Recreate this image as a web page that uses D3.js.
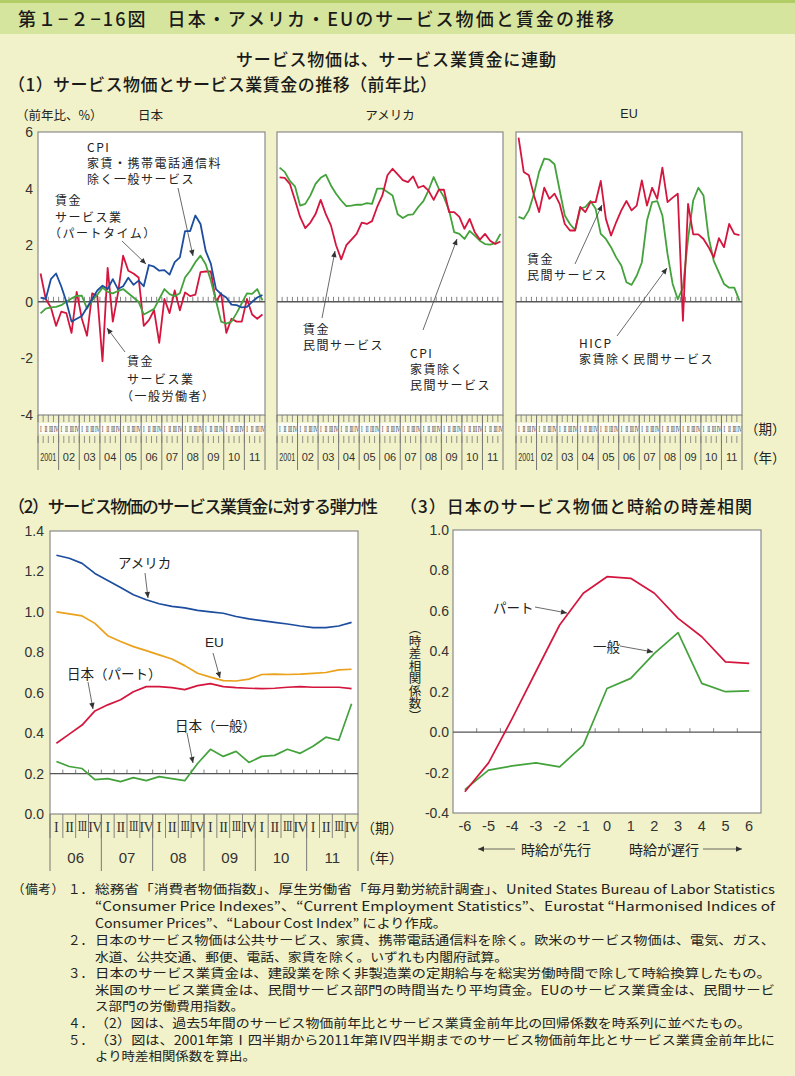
<!DOCTYPE html>
<html><head><meta charset="utf-8">
<script src="https://cdn.jsdelivr.net/npm/d3@7"></script>
<style>html,body{margin:0;padding:0;background:#f1f2c9;} svg{display:block}</style>
</head><body>
<svg id="chart" width="795" height="1076"></svg>
<script>
// ---------------- DATA ----------------
const years1 = ["2001","02","03","04","05","06","07","08","09","10","11"];
const quarterLabels = ["I","II","III","IV"];
// Japan (1)
const jpWagePart = [0.15,0.1,0.8,1.0,0.55,0.0,-0.7,-0.6,-0.5,-0.2,0.1,0.4,0.57,0.45,0.8,0.45,0.55,0.85,0.6,0.75,0.55,1.3,1.24,1.1,1.12,0.96,1.4,1.57,2.5,2.5,3.05,2.75,1.8,1.35,0.45,0.27,0.15,-0.1,-0.12,-0.2,-0.18,0.0,0.15,0.24];
const jpCPI = [-0.41,-0.24,-0.2,-0.18,-0.12,0.0,0.12,0.21,0.22,-0.24,0.05,0.25,0.5,0.35,0.3,0.38,0.45,0.3,0.15,0.0,-0.45,-0.35,-0.25,0.1,0.45,0.27,0.2,0.3,0.86,1.1,1.4,1.63,1.33,0.75,0.04,-0.7,-0.77,-0.7,-0.4,-0.05,0.3,0.28,0.45,0.05];
const jpWageGen = [1.0,0.1,-0.2,-0.85,-0.35,-0.4,-1.1,0.35,-0.6,-1.2,0.3,0.2,-2.1,1.2,-0.7,0.3,1.63,1.1,1.0,0.86,-0.85,-0.65,-0.3,-1.45,0.1,-0.4,0.4,-0.3,0.33,0.2,0.25,1.05,1.07,1.07,0.0,0.3,-1.1,-0.6,-0.7,-0.7,0.1,-0.45,-0.6,-0.45];
// America (1)
const usWage = [4.4,4.38,4.17,3.6,3.0,2.6,2.8,3.1,3.6,3.1,2.7,2.0,1.5,2.0,2.2,2.4,2.8,2.75,2.85,3.35,3.75,4.47,4.7,4.5,4.3,4.23,4.43,4.03,4.1,3.93,3.6,3.96,3.96,3.17,3.17,3.0,2.58,2.93,2.46,2.2,2.4,2.16,2.04,2.13];
const usCPI = [4.74,4.59,4.27,4.08,3.4,3.46,3.76,4.17,4.38,4.49,4.11,3.82,3.58,3.38,3.4,3.43,3.43,3.49,3.46,4.0,4.0,3.88,3.76,3.09,2.96,3.07,3.09,3.35,3.56,3.94,4.41,4.0,3.7,3.23,2.46,2.4,2.22,2.5,2.34,2.16,2.04,2.02,2.07,2.4];
// EU (1)
const euWage = [5.8,4.59,4.47,3.76,3.17,4.03,3.64,3.82,3.46,2.75,2.52,2.52,3.35,3.17,3.52,3.52,4.27,2.93,2.34,2.81,3.23,3.56,3.23,3.4,4.29,3.4,4.03,3.64,4.74,3.52,3.68,3.82,-0.67,3.46,2.38,2.38,2.22,1.93,1.57,2.25,1.93,2.75,2.4,2.36];
const euHICP = [3.0,2.93,3.23,3.82,4.59,5.06,5.02,4.86,3.94,3.05,2.75,2.54,3.29,3.35,3.56,3.29,2.4,2.22,1.93,1.57,1.28,0.69,0.6,0.92,1.39,2.87,3.52,3.56,3.05,1.69,0.63,0.09,0.5,2.22,3.58,4.03,3.76,2.28,1.45,1.04,0.63,0.5,0.5,0.04];
const yTicks1 = [6,4,2,0,-2,-4];

// (2) elasticity
const years2 = ["06","07","08","09","10","11"];
const elUS = [1.28,1.265,1.24,1.19,1.155,1.12,1.085,1.06,1.04,1.027,1.02,1.007,1.0,0.993,0.977,0.965,0.957,0.948,0.94,0.93,0.922,0.922,0.93,0.948];
const elEU = [1.0,0.99,0.98,0.943,0.882,0.853,0.828,0.808,0.787,0.767,0.734,0.696,0.677,0.66,0.658,0.667,0.69,0.692,0.69,0.692,0.696,0.70,0.713,0.716];
const elJPpart = [0.35,0.395,0.44,0.51,0.54,0.565,0.605,0.63,0.63,0.625,0.615,0.635,0.645,0.63,0.625,0.622,0.62,0.622,0.627,0.63,0.627,0.627,0.627,0.62];
const elJPgen = [0.26,0.235,0.225,0.17,0.175,0.16,0.18,0.165,0.185,0.175,0.165,0.25,0.32,0.285,0.31,0.255,0.285,0.29,0.32,0.3,0.335,0.38,0.365,0.545];
const yTicks2 = [0,0.2,0.4,0.6,0.8,1.0,1.2,1.4];

// (3) lag correlation
const lags = [-6,-5,-4,-3,-2,-1,0,1,2,3,4,5,6];
const corrPart = [-0.295,-0.152,0.068,0.3,0.53,0.687,0.769,0.761,0.687,0.563,0.472,0.348,0.34];
const corrGen = [-0.284,-0.188,-0.167,-0.152,-0.172,-0.064,0.216,0.266,0.39,0.492,0.241,0.2,0.204];
const yTicks3 = [1.0,0.8,0.6,0.4,0.2,0.0,-0.2,-0.4];

// ---------------- STYLE ----------------
const F_JP = "'Noto Sans CJK JP','Noto Sans',sans-serif";
const F_NUM = "'Liberation Sans',Arial,sans-serif";
const F_NARROW = "'Liberation Sans Narrow','Liberation Sans',Arial,sans-serif";
const F_SERIF = "'Liberation Serif','DejaVu Serif',serif";
const C_RED="#d4163e", C_GREEN="#43a23b", C_BLUE="#1c4d9e", C_ORANGE="#eba11b";
const C_TXT="#222", C_FRAME="#8a8a8a", C_AX="#555";

const svg = d3.select("#chart");
const defs = svg.append("defs");
defs.append("marker").attr("id","ah").attr("viewBox","0 0 10 10").attr("refX",10).attr("refY",5)
  .attr("markerUnits","userSpaceOnUse").attr("markerWidth",7).attr("markerHeight",6).attr("orient","auto")
  .append("path").attr("d","M0,0.5L10,5L0,9.5Z").attr("fill","#333");

function txt(x,y,s,o={}){
  const t=svg.append("text").attr("x",x).attr("y",y).attr("dominant-baseline","central")
    .attr("font-family",o.ff||F_JP).attr("font-size",o.fs||13.5).attr("fill",o.fill||C_TXT).text(s);
  if(o.anchor) t.attr("text-anchor",o.anchor);
  if(o.w) t.attr("textLength",o.w).attr("lengthAdjust",o.adj||"spacingAndGlyphs");
  if(o.fw) t.attr("font-weight",o.fw);
  if(o.ls) t.attr("letter-spacing",o.ls);
  return t;
}
function arrow(x1,y1,x2,y2){
  svg.append("line").attr("x1",x1).attr("y1",y1).attr("x2",x2).attr("y2",y2)
    .attr("stroke","#444").attr("stroke-width",0.8).attr("marker-end","url(#ah)");
}
function vline(x,y1,y2,c,w){svg.append("line").attr("x1",x).attr("x2",x).attr("y1",y1).attr("y2",y2).attr("stroke",c||C_FRAME).attr("stroke-width",w||1);}
// multi-line label as one text element with tspans
function multiline(x,y0,dy,lines){
  const t=svg.append("text").attr("dominant-baseline","central")
    .attr("font-family",F_JP).attr("font-size",12).attr("letter-spacing",1.5).attr("fill",C_TXT);
  lines.forEach((s,i)=>{
    t.append("tspan").attr("x", s.startsWith("（")? x-6 : x).attr("y",y0+i*dy)
      .attr("dominant-baseline","central").text(s);
  });
}

// ---------------- BACKGROUND & TITLES ----------------
svg.append("rect").attr("width",795).attr("height",1076).attr("fill","#f1f2c9");
svg.append("rect").attr("width",795).attr("height",34).attr("fill","#d6e59d");
svg.append("rect").attr("width",795).attr("height",3).attr("fill","#b2cc66");
txt(18,18,"第１−２−16図　日本・アメリカ・EUのサービス物価と賃金の推移",{fs:18,w:596,adj:"spacing",fw:500,fill:"#1a1a1a"});
txt(236,58,"サービス物価は、サービス業賃金に連動",{fs:17,w:320,adj:"spacing",fw:500,fill:"#1a1a1a"});
txt(8,83,"（1）サービス物価とサービス業賃金の推移（前年比）",{fs:17,w:429,adj:"spacing",fw:500,fill:"#1a1a1a"});

// ---------------- PANEL (1) ----------------
const qKeys1 = years1.flatMap(y=>quarterLabels.map(q=>y+"-"+q));
const P1 = {top:132, bottom:415};
const y1 = d3.scaleLinear().domain([-4,6]).range([P1.bottom,P1.top]);

function panel1(x0,x1,series,showY){
  const x = d3.scaleBand().domain(qKeys1).range([x0,x1]);
  const bw = x.bandwidth();
  svg.append("rect").attr("x",x0).attr("y",P1.top).attr("width",x1-x0).attr("height",P1.bottom-P1.top)
    .attr("fill","#fff").attr("stroke",C_FRAME).attr("stroke-width",1.2);
  qKeys1.slice(1).forEach(k=>vline(x(k),y1(0),y1(0)-5,"#666",0.8));
  svg.append("line").attr("x1",x0).attr("x2",x1).attr("y1",y1(0)).attr("y2",y1(0)).attr("stroke",C_AX).attr("stroke-width",1.4);
  const line = d3.line().x((d,i)=>x(qKeys1[i])+bw/2).y(d=>y1(d));
  series.forEach(s=>{
    svg.append("path").attr("d",line(s.values)).attr("fill","none").attr("stroke",s.color)
      .attr("stroke-width",1.8).attr("stroke-linejoin","round");
  });
  // axis area
  svg.append("rect").attr("x",x0).attr("y",423).attr("width",x1-x0).attr("height",11).attr("fill","#fcfcf6");
  const rg = svg.append("g").attr("transform","translate(0,429) scale(1,1.45)");
  qKeys1.forEach((k,i)=>{
    vline(x(k),P1.bottom,422,"#777",0.8);
    vline(x(k),436,443,"#777",0.8);
    rg.append("text").attr("x",x(k)+bw/2).attr("y",0).attr("text-anchor","middle").attr("dominant-baseline","central")
      .attr("font-family",F_SERIF).attr("font-size",5).attr("letter-spacing",-0.4).attr("fill","#333")
      .text(quarterLabels[i%4]);
  });
  years1.forEach((yr,j)=>{
    const xs = x(yr+"-I");
    vline(xs,P1.bottom,470,"#777",1);
    const t = txt(xs+2*bw,457,yr,{ff:F_NARROW,fs:11,anchor:"middle",fill:"#333"});
    if(yr.length>2) t.attr("textLength",16).attr("lengthAdjust","spacingAndGlyphs");
  });
  vline(x1,P1.bottom,470,"#777",1);
  if(showY){
    const ax = svg.append("g").attr("transform",`translate(${x0},0)`)
      .call(d3.axisLeft(y1).tickValues(yTicks1).tickSize(0).tickPadding(5).tickFormat(d=>String(d)));
    ax.select(".domain").remove();
    ax.selectAll("text").attr("font-family",F_NUM).attr("font-size",14).attr("fill","#333");
  }
}
panel1(38,265,[{values:jpWageGen,color:C_RED},{values:jpCPI,color:C_GREEN},{values:jpWagePart,color:C_BLUE}],true);
panel1(277,503,[{values:usCPI,color:C_GREEN},{values:usWage,color:C_RED}],false);
panel1(516,742,[{values:euHICP,color:C_GREEN},{values:euWage,color:C_RED}],false);

txt(16,114,"（前年比、%）",{fs:12.5});
txt(138,114,"日本",{fs:12.5});
txt(390,114,"アメリカ",{fs:12.5,anchor:"middle"});
txt(629,114,"EU",{fs:12.5,anchor:"middle",ff:F_NUM});
txt(745,428,"（期）",{fs:13.5});
txt(745,457,"（年）",{fs:13.5});

// annotations panel 1
multiline(87,146,16,["CPI","家賃・携帯電話通信料","除く一般サービス"]);
arrow(178,188,193,256);
multiline(55,199,16.5,["賃金","サービス業","（パートタイム）"]);
arrow(122,241,146,264);
multiline(127,360,17.5,["賃金","サービス業","（一般労働者）"]);
arrow(125,352,107,328);

multiline(303,328,16,["賃金","民間サービス"]);
arrow(322,318,335,251);
multiline(410,352,16,["CPI","家賃除く","民間サービス"]);
arrow(423,330,457,239);

multiline(527,258,16,["賃金","民間サービス"]);
arrow(575,264,602,205);
multiline(579,342,16,["HICP","家賃除く民間サービス"]);
arrow(617,336,667,268);

// ---------------- PANEL (2) ----------------
txt(8,505,"（2）サービス物価のサービス業賃金に対する弾力性",{fs:17,w:370,adj:"spacing",fw:500,fill:"#1a1a1a"});
const qKeys2 = years2.flatMap(y=>quarterLabels.map(q=>y+"-"+q));
const x2 = d3.scaleBand().domain(qKeys2).range([50,358]);
const y2 = d3.scaleLinear().domain([0,1.4]).range([814,531]);
const bw2 = x2.bandwidth();
svg.append("rect").attr("x",50).attr("y",531).attr("width",308).attr("height",283).attr("fill","#fff").attr("stroke",C_FRAME).attr("stroke-width",1.2);
qKeys2.slice(1).forEach(k=>vline(x2(k),y2(0.2),y2(0.2)-4,"#666",0.8));
svg.append("line").attr("x1",50).attr("x2",358).attr("y1",y2(0.2)).attr("y2",y2(0.2)).attr("stroke",C_AX).attr("stroke-width",1.2);
const line2 = d3.line().x((d,i)=>x2(qKeys2[i])+bw2/2).y(d=>y2(d));
[[elUS,C_BLUE],[elEU,C_ORANGE],[elJPpart,C_RED],[elJPgen,C_GREEN]].forEach(([v,c])=>{
  svg.append("path").attr("d",line2(v)).attr("fill","none").attr("stroke",c).attr("stroke-width",1.7).attr("stroke-linejoin","round");
});
{
  const ax = svg.append("g").attr("transform","translate(50,0)")
    .call(d3.axisLeft(y2).tickValues(yTicks2).tickSize(0).tickPadding(6).tickFormat(d=>d.toFixed(1)));
  ax.select(".domain").remove();
  ax.selectAll("text").attr("font-family",F_NUM).attr("font-size",14).attr("fill","#333");
}
qKeys2.forEach((k,i)=>{
  vline(x2(k),814,838,"#777",0.9);
  const q = quarterLabels[i%4];
  const t = txt(x2(k)+bw2/2,827,q,{ff:F_SERIF,fs:q.length>2?11:14,anchor:"middle",fill:"#333"});
  if(q.length>1) t.attr("transform",`translate(${x2(k)+bw2/2},827) scale(1,${q.length>2?1.27:1}) translate(${-(x2(k)+bw2/2)},-827)`).attr("letter-spacing",q.length>2?-0.8:-0.6);
});
years2.forEach(yr=>{
  const xs = x2(yr+"-I");
  vline(xs,814,871,"#777",1);
  txt(xs+2*bw2,857,yr,{ff:F_NUM,fs:15,anchor:"middle",fill:"#333"});
});
vline(358,814,871,"#777",1);
txt(361,827,"（期）",{fs:14});
txt(361,857,"（年）",{fs:14});

txt(118,562,"アメリカ",{fs:13.5});
arrow(145,573,148,598);
txt(205,642,"EU",{fs:13.5,ff:F_NUM});
arrow(213,653,220,678);
txt(67,673,"日本（パート）",{fs:13.5});
arrow(88,682,93,709);
txt(175,725,"日本（一般）",{fs:13.5});
arrow(187,733,193,763);

// ---------------- PANEL (3) ----------------
txt(400,505,"（3）日本のサービス物価と時給の時差相関",{fs:17,w:352,adj:"spacing",fw:500,fill:"#1a1a1a"});
const x3 = d3.scaleBand().domain(lags).range([453,761]);
const y3 = d3.scaleLinear().domain([-0.4,1.0]).range([813,530]);
const bw3 = x3.bandwidth();
svg.append("rect").attr("x",453).attr("y",530).attr("width",308).attr("height",283).attr("fill","#fff").attr("stroke",C_FRAME).attr("stroke-width",1.2);
lags.slice(1).forEach(k=>vline(x3(k),y3(0),y3(0)-4,"#666",0.8));
svg.append("line").attr("x1",453).attr("x2",761).attr("y1",y3(0)).attr("y2",y3(0)).attr("stroke",C_AX).attr("stroke-width",1.2);
const line3 = d3.line().x((d,i)=>x3(lags[i])+bw3/2).y(d=>y3(d));
[[corrGen,C_GREEN],[corrPart,C_RED]].forEach(([v,c])=>{
  svg.append("path").attr("d",line3(v)).attr("fill","none").attr("stroke",c).attr("stroke-width",1.7).attr("stroke-linejoin","round");
});
{
  const ax = svg.append("g").attr("transform","translate(453,0)")
    .call(d3.axisLeft(y3).tickValues(yTicks3).tickSize(0).tickPadding(4).tickFormat(d=>d.toFixed(1)));
  ax.select(".domain").remove();
  ax.selectAll("text").attr("font-family",F_NUM).attr("font-size",14).attr("fill","#333");
  const bx = svg.append("g").attr("transform","translate(0,813)")
    .call(d3.axisBottom(x3).tickSize(0).tickPadding(8).tickFormat(d=>String(d)));
  bx.select(".domain").remove();
  bx.selectAll("text").attr("font-family",F_NUM).attr("font-size",14.5).attr("fill","#333");
}
// vertical y label
svg.append("text").attr("x",415).attr("y",622)
  .attr("font-family",F_JP).attr("font-size",12.5).attr("fill",C_TXT)
  .style("writing-mode","vertical-rl").style("text-orientation","mixed")
  .text("（時差相関係数）");
// bottom arrows
arrow(515,849,478,849);
txt(521,849,"時給が先行",{fs:14});
txt(629,849,"時給が遅行",{fs:14});
arrow(703,849,742,849);
txt(493,607,"パート",{fs:13.5});
arrow(535,607,567,613);
txt(593,646,"一般",{fs:13.5});
arrow(620,646,653,652);

// ---------------- NOTES ----------------
const notes = [
  {n:"（備考）", num:"１．", y:888, s:"総務省「消費者物価指数」、厚生労働省「毎月勤労統計調査」、United States Bureau of Labor Statistics", w:680},
  {y:905, s:"“Consumer Price Indexes”、“Current Employment Statistics”、Eurostat “Harmonised Indices of", w:680},
  {y:921.5, s:"Consumer Prices”、“Labour Cost Index” により作成。", w:352},
  {num:"２．", y:939, s:"日本のサービス物価は公共サービス、家賃、携帯電話通信料を除く。欧米のサービス物価は、電気、ガス、", w:680},
  {y:955.5, s:"水道、公共交通、郵便、電話、家賃を除く。いずれも内閣府試算。", w:413},
  {num:"３．", y:972, s:"日本のサービス業賃金は、建設業を除く非製造業の定期給与を総実労働時間で除して時給換算したもの。", w:676},
  {y:988.5, s:"米国のサービス業賃金は、民間サービス部門の時間当たり平均賃金。EUのサービス業賃金は、民間サービ", w:680},
  {y:1005, s:"ス部門の労働費用指数。", w:149},
  {num:"４．", y:1022, s:"（2）図は、過去5年間のサービス物価前年比とサービス業賃金前年比の回帰係数を時系列に並べたもの。", w:656},
  {num:"５．", y:1038.5, s:"（3）図は、2001年第Ⅰ四半期から2011年第Ⅳ四半期までのサービス物価前年比とサービス業賃金前年比に", w:680},
  {y:1055, s:"より時差相関係数を算出。", w:161}
];
{
  const nt = svg.append("text").attr("font-family",F_JP).attr("font-size",12.5).attr("fill",C_TXT).attr("dominant-baseline","central");
  notes.forEach(d=>{
    if(d.n) nt.append("tspan").attr("x",12).attr("y",d.y).attr("dominant-baseline","central")
      .attr("textLength",52).attr("lengthAdjust","spacing").text(d.n);
    if(d.num) nt.append("tspan").attr("x",68).attr("y",d.y).attr("dominant-baseline","central")
      .attr("textLength",25).attr("lengthAdjust","spacing").text(d.num);
    nt.append("tspan").attr("x",95).attr("y",d.y).attr("dominant-baseline","central")
      .attr("textLength",d.w).attr("lengthAdjust","spacingAndGlyphs").text(d.s);
  });
}
</script></body></html>
